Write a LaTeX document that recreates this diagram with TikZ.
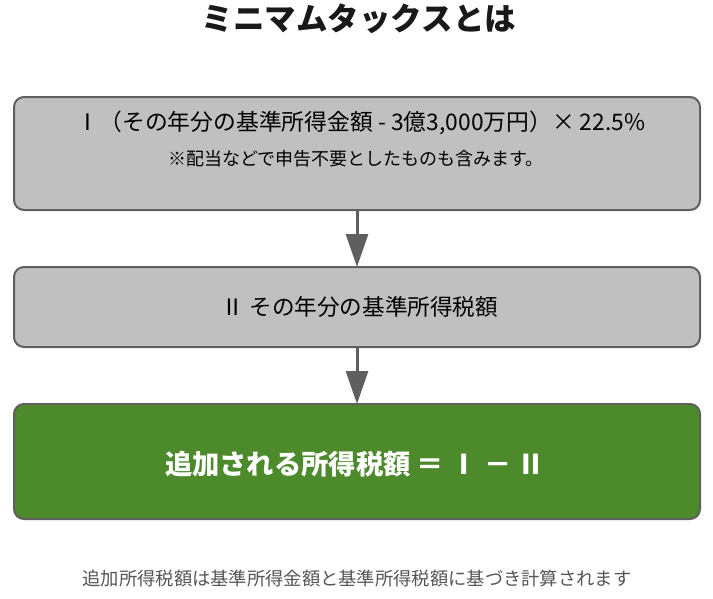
\documentclass[tikz,border=0pt]{standalone}
\usepackage{fontspec}
\newfontfamily\jp{Noto Sans CJK JP}
\usetikzlibrary{arrows.meta}
\definecolor{boxgray}{HTML}{C0C0C0}
\definecolor{edgegray}{HTML}{5F5F5F}
\definecolor{resgreen}{HTML}{4C8A2C}
\definecolor{foot}{HTML}{555555}
\begin{document}
\begin{tikzpicture}[x=1pt,y=1pt,
  stepbox/.style={draw=edgegray,line width=2pt,rounded corners=10pt},
  flow/.style={draw=edgegray,line width=3pt,-{Triangle[width=22pt,length=33pt]}}]
\useasboundingbox (0,0) rectangle (713,-598);
\node[font=\jp\bfseries\fontsize{31.5}{36}\selectfont,text=black!90] (title) at (359,-19) {ミニマムタックスとは};
\draw[stepbox,fill=boxgray] (14,-97) rectangle (700,-210);
\coordinate (b1s) at (357,-210);
\node[font=\jp\fontsize{22.8}{26}\selectfont] (l1) at (361,-123) {Ⅰ（その年分の基準所得金額 - 3億3,000万円）× 22.5\%};
\node[font=\jp\fontsize{18}{22}\selectfont] (l2) at (356,-159) {※配当などで申告不要としたものも含みます。};
\draw[stepbox,fill=boxgray] (14,-267) rectangle (700,-347);
\coordinate (b2n) at (357,-267);
\coordinate (b2s) at (357,-347);
\node[font=\jp\fontsize{22.6}{26}\selectfont] (l3) at (360,-307) {Ⅱ その年分の基準所得税額};
\draw[stepbox,fill=resgreen] (14,-404) rectangle (700,-519);
\coordinate (b3n) at (357,-404);
\node[font=\jp\bfseries\fontsize{27.3}{31}\selectfont,text=white] (l4) at (355,-464) {追加される所得税額 ＝ Ⅰ － Ⅱ};
\node[font=\jp\fontsize{18.3}{22}\selectfont,text=foot] (foot) at (357,-579) {追加所得税額は基準所得金額と基準所得税額に基づき計算されます};
\draw[flow] (b1s) -- (b2n);
\draw[flow] (b2s) -- (b3n);
\end{tikzpicture}
\end{document}
